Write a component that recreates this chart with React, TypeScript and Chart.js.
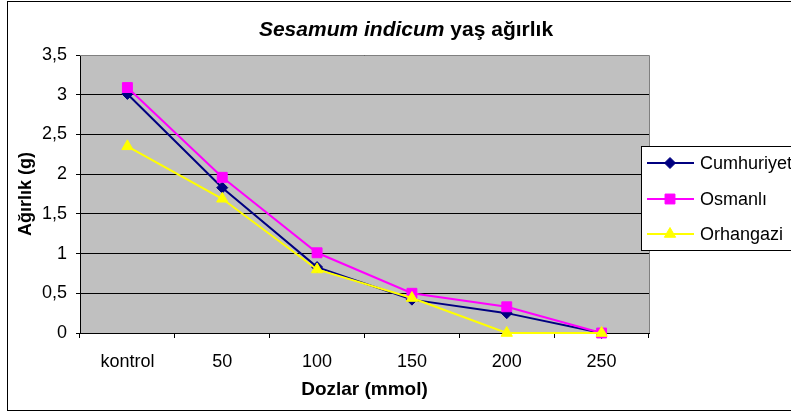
import React, { useEffect, useRef } from "react";
import { Chart, registerables } from "chart.js";

Chart.register(...registerables);

const categories = ["kontrol", "50", "100", "150", "200", "250"];
const cumhuriyet = [3.01, 1.83, 0.83, 0.42, 0.25, 0];
const osmanli = [3.09, 1.96, 1.01, 0.5, 0.33, 0];
const orhangazi = [2.35, 1.69, 0.8, 0.44, 0, 0];
const yTicks = [0, 0.5, 1, 1.5, 2, 2.5, 3, 3.5];
const titleItalic = "Sesamum indicum";
const titleRest = " yaş ağırlık";
const xTitle = "Dozlar (mmol)";
const yTitle = "Ağırlık (g)";

const FONT = "'Liberation Sans', Arial, sans-serif";

const decorPlugin = {
  id: "decor",
  beforeDraw(chart: any) {
    const { ctx, chartArea: a } = chart;
    ctx.save();
    ctx.fillStyle = "#ffffff";
    ctx.fillRect(0, 0, chart.width, chart.height);
    ctx.fillStyle = "#C0C0C0";
    ctx.fillRect(a.left, a.top, a.right - a.left, a.bottom - a.top);
    ctx.restore();
  },
  beforeDatasetsDraw(chart: any) {
    const { ctx, chartArea: a } = chart;
    ctx.save();
    ctx.strokeStyle = "#808080";
    ctx.lineWidth = 1;
    ctx.beginPath();
    ctx.moveTo(a.left, Math.round(a.top) + 0.5);
    ctx.lineTo(a.right + 0.5, Math.round(a.top) + 0.5);
    ctx.lineTo(a.right + 0.5, a.bottom);
    ctx.stroke();
    ctx.restore();
  },
  afterDraw(chart: any) {
    const { ctx, chartArea: a } = chart;
    ctx.save();
    // outer border
    ctx.strokeStyle = "#000000";
    ctx.lineWidth = 1;
    ctx.strokeRect(7.5, 1.5, 900, 409);

    // title
    ctx.fillStyle = "#000000";
    ctx.textBaseline = "middle";
    ctx.textAlign = "left";
    const fItalic = `italic bold 21px ${FONT}`;
    const fBold = `bold 21px ${FONT}`;
    ctx.font = fItalic;
    const w1 = ctx.measureText(titleItalic).width;
    ctx.font = fBold;
    const w2 = ctx.measureText(titleRest).width;
    const tx = 406 - (w1 + w2) / 2;
    ctx.font = fItalic;
    ctx.fillText(titleItalic, tx, 30);
    ctx.font = fBold;
    ctx.fillText(titleRest, tx + w1, 30);

    // axis titles
    ctx.font = `bold 19px ${FONT}`;
    ctx.textAlign = "center";
    ctx.fillText(xTitle, (a.left + a.right) / 2, 390);
    ctx.save();
    ctx.translate(26, (a.top + a.bottom) / 2);
    ctx.rotate(-Math.PI / 2);
    ctx.font = `bold 18px ${FONT}`;
    ctx.fillText(yTitle, 0, 0);
    ctx.restore();

    // legend
    const lx = 641.5;
    const ly = 146.5;
    ctx.fillStyle = "#ffffff";
    ctx.fillRect(lx, ly, 200, 104);
    ctx.strokeStyle = "#000000";
    ctx.strokeRect(lx, ly, 200, 104);
    const rows = [163, 199, 234];
    chart.data.datasets.forEach((ds: any, i: number) => {
      const y = rows[i];
      ctx.strokeStyle = ds.borderColor;
      ctx.lineWidth = 2;
      ctx.beginPath();
      ctx.moveTo(647, y);
      ctx.lineTo(694, y);
      ctx.stroke();
      ctx.fillStyle = ds.pointBackgroundColor;
      ctx.strokeStyle = ds.pointBorderColor;
      ctx.lineWidth = 1;
      (Chart as any).helpers
        ? null
        : null;
      drawMarker(ctx, ds.pointStyle, ds.pointRadius, 670, y);
      ctx.fillStyle = "#000000";
      ctx.font = `18px ${FONT}`;
      ctx.textAlign = "left";
      ctx.textBaseline = "middle";
      ctx.fillText(ds.label, 700, y + 1);
    });
    ctx.restore();
  },
};

function drawMarker(ctx: CanvasRenderingContext2D, style: string, r: number, x: number, y: number) {
  ctx.beginPath();
  if (style === "rect") {
    const s = Math.SQRT1_2 * r;
    ctx.rect(x - s, y - s, 2 * s, 2 * s);
  } else if (style === "rectRot") {
    ctx.moveTo(x - r, y);
    ctx.lineTo(x, y - r);
    ctx.lineTo(x + r, y);
    ctx.lineTo(x, y + r);
    ctx.closePath();
  } else {
    let rad = 0;
    ctx.moveTo(x + Math.sin(rad) * r, y - Math.cos(rad) * r);
    rad += (2 * Math.PI) / 3;
    ctx.lineTo(x + Math.sin(rad) * r, y - Math.cos(rad) * r);
    rad += (2 * Math.PI) / 3;
    ctx.lineTo(x + Math.sin(rad) * r, y - Math.cos(rad) * r);
    ctx.closePath();
  }
  ctx.fill();
  ctx.stroke();
}

export default function App() {
  const ref = useRef<HTMLCanvasElement>(null);
  useEffect(() => {
    if (!ref.current) return;
    const mk = (label: string, data: number[], color: string, style: string, r: number, order: number) => ({
      label,
      data,
      borderColor: color,
      backgroundColor: color,
      pointBackgroundColor: color,
      pointBorderColor: color,
      pointBorderWidth: 1,
      pointStyle: style,
      pointRadius: r,
      borderWidth: 2,
      tension: 0,
      clip: false as any,
      order,
    });
    const chart = new Chart(ref.current, {
      type: "line",
      data: {
        labels: categories,
        datasets: [
          mk("Cumhuriyet", cumhuriyet, "#000080", "rectRot", 5.5, 3),
          mk("Osmanlı", osmanli, "#FF00FF", "rect", 7, 2),
          mk("Orhangazi", orhangazi, "#FFFF00", "triangle", 6.5, 1),
        ] as any,
      },
      options: {
        animation: false,
        responsive: false,
        devicePixelRatio: 1,
        layout: { padding: { left: 0, top: 55, right: 142, bottom: 0 } },
        plugins: {
          legend: { display: false },
          title: { display: false },
          tooltip: { enabled: false },
        },
        font: { family: FONT },
        scales: {
          x: {
            type: "category",
            offset: true,
            afterFit(scale: any) {
              scale.height = 79;
            },
            grid: {
              offset: true,
              drawOnChartArea: false,
              drawTicks: true,
              tickLength: 5,
              color: "#000000",
            },
            border: { display: true, color: "#000000", width: 1 },
            ticks: {
              color: "#000000",
              font: { family: FONT, size: 18 },
              padding: 13,
              maxRotation: 0,
              autoSkip: false,
            },
          },
          y: {
            min: 0,
            max: 3.5,
            afterFit(scale: any) {
              scale.width = 80;
            },
            afterBuildTicks(scale: any) {
              scale.ticks = yTicks.map((v) => ({ value: v }));
            },
            grid: {
              color: "#000000",
              drawTicks: true,
              tickLength: 4,
            },
            border: { display: true, color: "#000000", width: 1 },
            ticks: {
              color: "#000000",
              font: { family: FONT, size: 18 },
              padding: 9,
              callback: (v: any) => String(v).replace(".", ","),
            },
          },
        },
      } as any,
      plugins: [decorPlugin],
    });
    return () => chart.destroy();
  }, []);
  return (
    <div style={{ position: "fixed", left: 0, top: 0, width: 791, height: 412, background: "#fff" }}>
      <canvas ref={ref} width={791} height={412} style={{ display: "block", width: 791, height: 412 }} />
    </div>
  );
}
